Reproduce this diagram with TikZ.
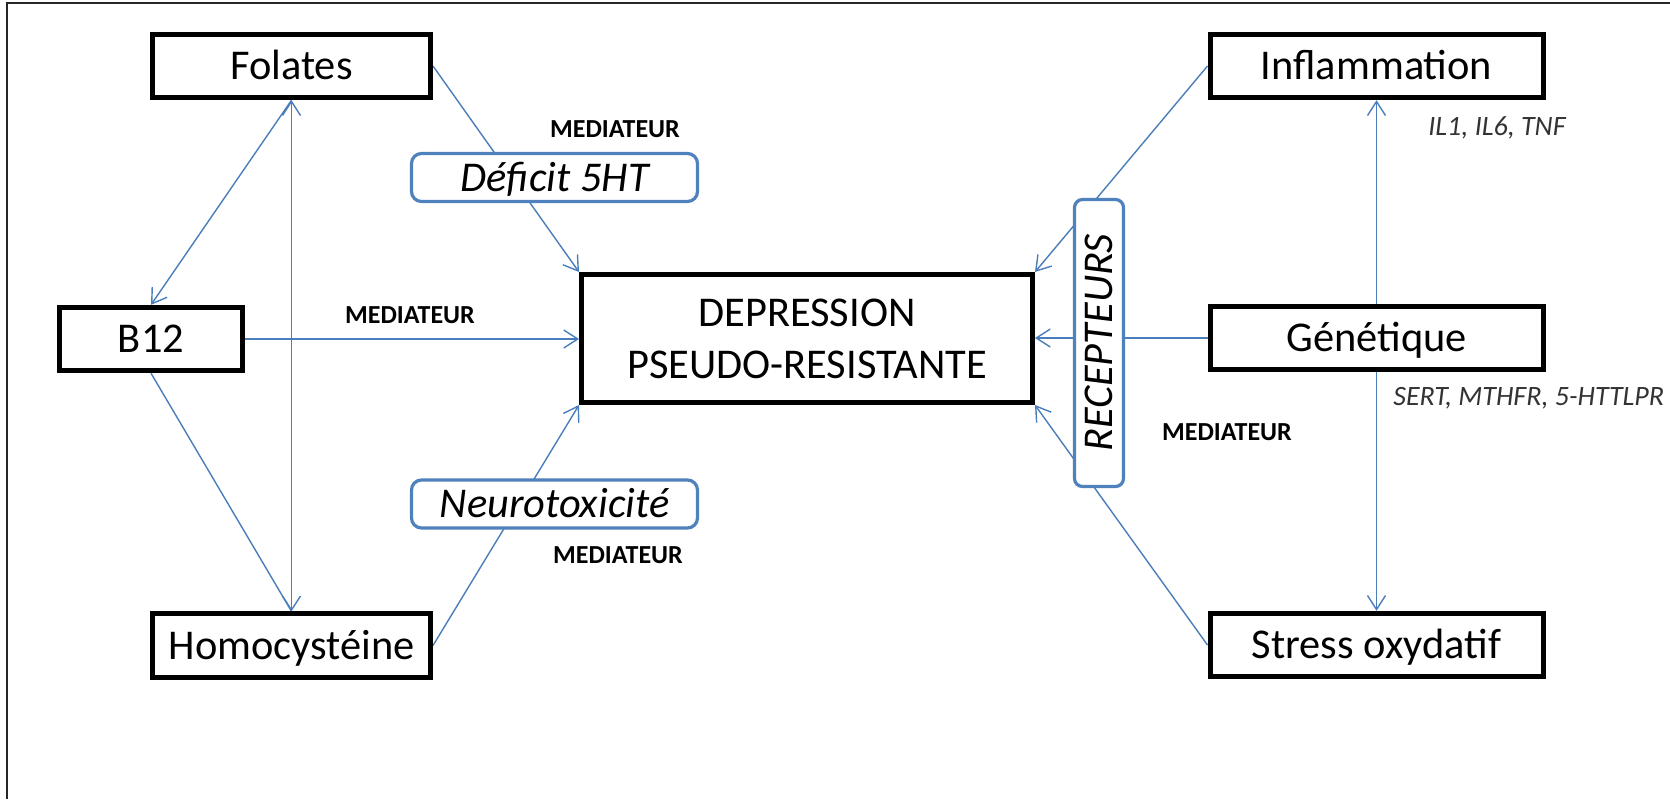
\documentclass[tikz,border=0pt]{standalone}
\usepackage{fontspec}
\setmainfont{Carlito}
\usetikzlibrary{arrows.meta,backgrounds}
\definecolor{lnblue}{HTML}{4A7EBB}
\definecolor{bxblue}{HTML}{4F81BD}
\begin{document}
\begin{tikzpicture}[x=0.5pt,y=-0.5pt,
  bx/.style={draw=black, line width=2.5pt, fill=white, inner sep=0pt,
    font=\fontsize{21.2}{26}\selectfont, text height=13.6pt, text depth=0pt},
  bb/.style={draw=bxblue, line width=1.6pt, rounded corners=5pt, fill=white, inner sep=0pt,
    font=\fontsize{21.2}{26}\selectfont\itshape, text height=13.6pt, text depth=0pt},
  med/.style={inner sep=0pt, font=\fontsize{13}{15}\selectfont\bfseries, anchor=base},
  gene/.style={inner sep=0pt, font=\fontsize{14}{16}\selectfont\itshape, text=black!80, anchor=base west},
  conn/.style={draw=lnblue, line width=0.7pt},
  arr/.style={conn, -{Straight Barb[length=7pt,width=9pt]}},
  darr/.style={conn, {Straight Barb[length=7pt,width=9pt]}-{Straight Barb[length=7pt,width=9pt]}}
]
\useasboundingbox (0,0) rectangle (1670,799);

% boxes
\node[bx, minimum width=139pt, minimum height=31.7pt] (fol) at (291.5,66) {Folates};
\node[bx, minimum width=91.5pt, minimum height=31.7pt] (b12) at (151,339) {B12};
\node[bx, minimum width=139pt, minimum height=31.7pt] (homo) at (291.5,645.5) {Homocystéine};
\node[bx, minimum width=225.5pt, minimum height=64pt, align=center, text height=, text depth=]
  (dep) at (807,338.5) {DEPRESSION\\PSEUDO-RESISTANTE};
\node[bx, minimum width=166.5pt, minimum height=31.7pt] (infl) at (1376.5,66) {Inflammation};
\node[bx, minimum width=166.5pt, minimum height=31.7pt] (gen) at (1376.5,338) {Génétique};
\node[bx, minimum width=166.5pt, minimum height=31.7pt] (stress) at (1376.5,645) {Stress oxydatif};

% blue mediator boxes
\node[bb, minimum width=143pt, minimum height=24pt] (def) at (554.5,177.5) {Déficit 5HT};
\node[bb, minimum width=143pt, minimum height=24pt] (neuro) at (554.5,504) {Neurotoxicité};
\node[bb, rotate=90, rounded corners=4pt, minimum width=143.5pt, minimum height=24.5pt] (rec) at (1099,343) {RECEPTEURS};

% labels
\node[med] (m1) at (615,137) {MEDIATEUR};
\node[med] (m2) at (410,323) {MEDIATEUR};
\node[med] (m3) at (618,563) {MEDIATEUR};
\node[med] (m4) at (1227,440) {MEDIATEUR};
\node[gene] (g1) at (1428,135) {IL1, IL6, TNF};
\node[gene] (g2) at (1393,405) {SERT, MTHFR, 5-HTTLPR};

\begin{pgfonlayer}{background}
  \fill[white] (0,0) rectangle (1670,799);
  \draw[line width=1.1pt, black!85] (1670,3) -- (7,3) -- (7,799);
  % left side
  \draw[arr] (fol.east) -- (dep.north west);
  \draw[arr] (b12.east) -- (b12.east -| dep.west);
  \draw[arr] (homo.east) -- (dep.south west);
  \draw[arr] (fol.south) -- (b12.north);
  \draw[conn] (b12.south) -- (homo.north);
  \draw[darr] (fol.south) -- (homo.north);
  % right side
  \draw[arr] (infl.west) -- (dep.north east);
  \draw[arr] (gen.west) -- (gen.west -| dep.east);
  \draw[arr] (stress.west) -- (dep.south east);
  \draw[arr] (gen.north) -- (infl.south);
  \draw[arr] (gen.south) -- (stress.north);
\end{pgfonlayer}
\end{tikzpicture}
\end{document}
